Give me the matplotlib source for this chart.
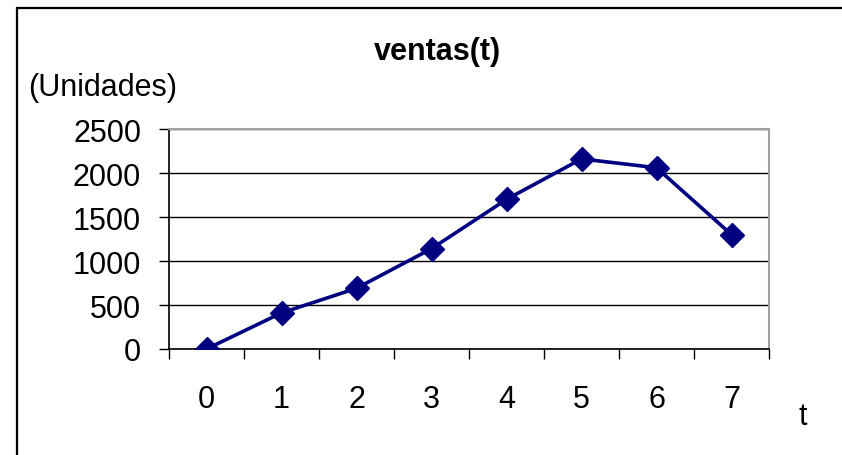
import matplotlib
matplotlib.use("Agg")
import matplotlib.pyplot as plt
from matplotlib.patches import Rectangle

# ventas por periodo
t = [0, 1, 2, 3, 4, 5, 6, 7]
ventas = [0, 410, 690, 1140, 1700, 2160, 2060, 1300]
yticks = [0, 500, 1000, 1500, 2000, 2500]

W, H = 842, 456
plt.rcParams['font.family'] = ['Liberation Sans', 'DejaVu Sans']

fig = plt.figure(figsize=(W / 100, H / 100), dpi=100)
ax = fig.add_axes([169 / W, (H - 350) / H, 600 / W, 220 / H])

ax.plot(t, ventas, color='#000080', lw=2.6, marker='D', ms=12,
        markerfacecolor='#000080', markeredgecolor='#000080', zorder=3)

ax.set_xlim(-0.5, 7.5)
ax.set_ylim(0, 2500)

# eje de categorias: marcas entre categorias, etiquetas al centro
ax.set_xticks([i - 0.5 for i in range(len(t) + 1)])
ax.set_xticklabels([])
ax.set_xticks(t, minor=True)
ax.set_xticklabels([str(v) for v in t], minor=True)
ax.tick_params(axis='x', which='major', direction='out', length=7, width=1, color='black')
ax.tick_params(axis='x', which='minor', length=0, pad=25, labelsize=22)

ax.set_yticks(yticks)
ax.set_yticklabels([str(v) for v in yticks])
ax.tick_params(axis='y', direction='out', length=7, width=1, pad=13, labelsize=22)

ax.grid(axis='y', color='black', lw=1)
ax.set_axisbelow(True)
for s in ['left', 'bottom']:
    ax.spines[s].set_color('black')
    ax.spines[s].set_linewidth(1.2)
for s in ['top', 'right']:
    ax.spines[s].set_color('#a0a0a0')
    ax.spines[s].set_linewidth(1.5)

fig.text(437 / W, 1 - 52 / H, 'ventas(t)', ha='center', va='center',
         fontsize=22, fontweight='bold')
fig.text(28 / W, 1 - 88 / H, '(Unidades)', ha='left', va='center', fontsize=22)
fig.text(803 / W, 1 - 417 / H, 't', ha='center', va='center', fontsize=22)

# marco del grafico
fig.patches.append(Rectangle((17 / W, -0.1), 1.0, 1.1 - 8.5 / H,
                             transform=fig.transFigure, fill=False,
                             edgecolor='black', lw=1.6))

fig.savefig('out.png', dpi=100)
